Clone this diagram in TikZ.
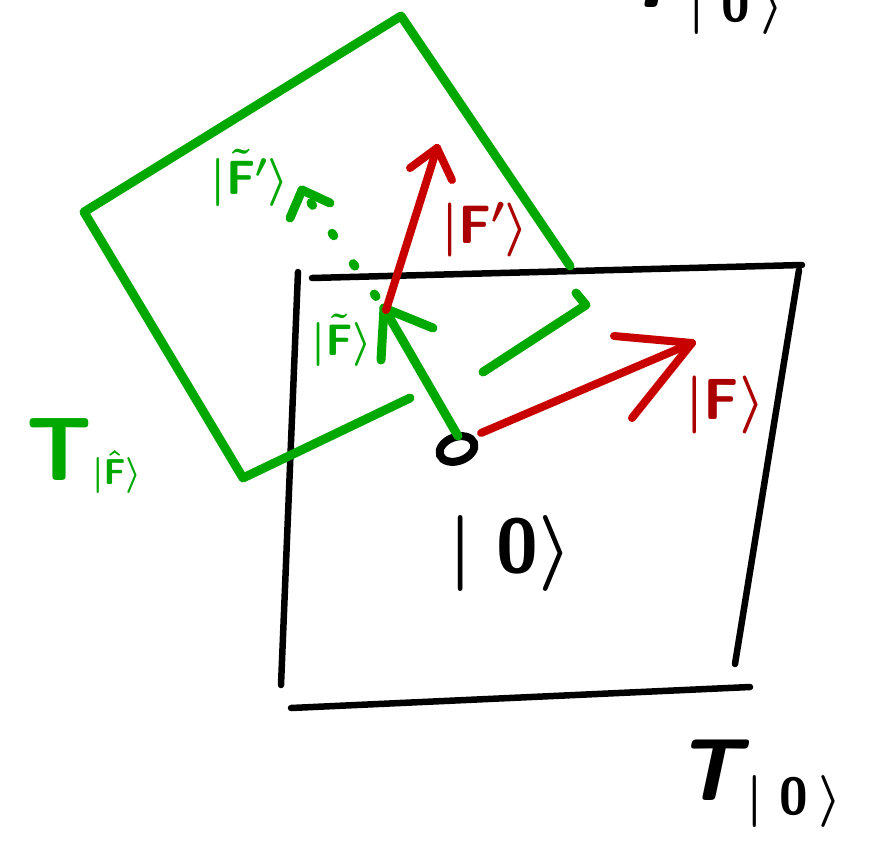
\documentclass[tikz,border=0pt]{standalone}
\usepackage{fix-cm}
\usetikzlibrary{shapes.geometric}
\definecolor{gr}{RGB}{0,168,0}
\definecolor{rd}{RGB}{200,0,0}
\definecolor{rdl}{RGB}{170,0,0}
\begin{document}
\begin{tikzpicture}[x=1pt,y=-1pt,
  greenline/.style={draw=gr,line width=9pt,line cap=round,line join=round},
  redline/.style={draw=rd,line width=8pt,line cap=round,line join=round},
  blackline/.style={draw=black,line width=6.5pt,line cap=round,line join=round},
  lbl/.style={inner sep=0pt,font=\sffamily\bfseries\boldmath}]
\useasboundingbox (0,0) rectangle (889,841);
\clip (0,0) rectangle (889,841);

% ---------- black square T_|0>
\coordinate (bT1) at (312,278);
\coordinate (bT2) at (802,265);
\coordinate (bR1) at (799,270);
\coordinate (bR2) at (735,664);
\coordinate (bL1) at (298,272);
\coordinate (bL2) at (281,685);
\coordinate (bB1) at (291,708);
\coordinate (bB2) at (750,687);
\draw[blackline] (bT1) -- (bT2);
\draw[blackline] (bR1) -- (bR2);
\draw[blackline] (bL1) -- (bL2);
\draw[blackline] (bB1) -- (bB2);

% ---------- green tilted square T_|F~>
\coordinate (gA) at (570,266);
\coordinate (gTop) at (401,16);
\coordinate (gLeft) at (84,212);
\coordinate (gBot) at (243,478);
\coordinate (gB) at (410,398);
\coordinate (gC) at (576,293);
\coordinate (gRight) at (586,305);
\coordinate (gD) at (483,372);
\draw[greenline] (gA) -- (gTop) -- (gLeft) -- (gBot) -- (gB);
\draw[greenline] (gC) -- (gRight) -- (gD);

% ---------- origin point
\node[draw=black,line width=8pt,ellipse,minimum width=36pt,minimum height=24pt,
      inner sep=0pt,rotate=20] (orig) at (457,449) {};

% ---------- green vector |F~>
\coordinate (gS) at (458,436);
\coordinate (gTip) at (384,308);
\draw[greenline] (gS) -- (gTip);
\draw[greenline] (gTip) -- ++(49,20);
\draw[greenline] (gTip) -- ++(-3,52);

% ---------- green dashed vector |F~'>
\coordinate (gTip2) at (302,190);
\draw[greenline,dash pattern=on 3pt off 34pt,dash phase=-14pt] (gTip) -- (gTip2);
\draw[greenline] (gTip2) -- ++(-12,28);
\draw[greenline] (gTip2) -- ++(28,13);

% ---------- red vector |F'>
\coordinate (rS2) at (386,310);
\coordinate (rTip2) at (437,148);
\draw[redline] (rS2) -- (rTip2);
\draw[redline] (rTip2) -- ++(-27,20);
\draw[redline] (rTip2) -- ++(15,32);

% ---------- red vector |F>
\coordinate (rS1) at (481,433);
\coordinate (rTip1) at (692,343);
\draw[redline] (rS1) -- (rTip1);
\draw[redline] (rTip1) -- ++(-78,-7);
\draw[redline] (rTip1) -- ++(-60,75);

% ---------- labels
\node[lbl,text=rdl] (lF) at (725,405) {\fontsize{58}{58}\selectfont$|\mathsf{F}\rangle$};
\node[lbl,text=rdl] (lFp) at (485,230) {\fontsize{54}{54}\selectfont$|\mathsf{F}'\rangle$};
\node[lbl,text=gr] (lFt) at (342,340) {\fontsize{44}{44}\selectfont$|\tilde{\mathsf{F}}\rangle$};
\node[lbl,text=gr] (lFtp) at (250,178) {\fontsize{48}{48}\selectfont$|\tilde{\mathsf{F}}'\rangle$};
\node[lbl,text=gr,anchor=base west] (lTF) at (26,480)
  {\fontsize{90}{90}\selectfont T\raisebox{-4.5pt}{\fontsize{36}{36}\selectfont$|\hat{\mathsf{F}}\rangle$}};
\node[lbl,text=black,anchor=west] (l0) at (448,553) {\fontsize{76}{76}\selectfont$|\;\mathsf{0}\rangle$};
\node[lbl,text=black,anchor=base west] (lT0) at (676,800)
  {\fontsize{88}{88}\selectfont\slshape T\hspace{6pt}\raisebox{-14pt}{\fontsize{52}{52}\selectfont$|\;\mathsf{0}\,\rangle$}};
\node[lbl,text=black,anchor=base west] (lT0top) at (618,7)
  {\fontsize{88}{88}\selectfont\slshape T\hspace{6pt}\raisebox{-14pt}{\fontsize{52}{52}\selectfont$|\;\mathsf{0}\,\rangle$}};
\end{tikzpicture}
\end{document}
